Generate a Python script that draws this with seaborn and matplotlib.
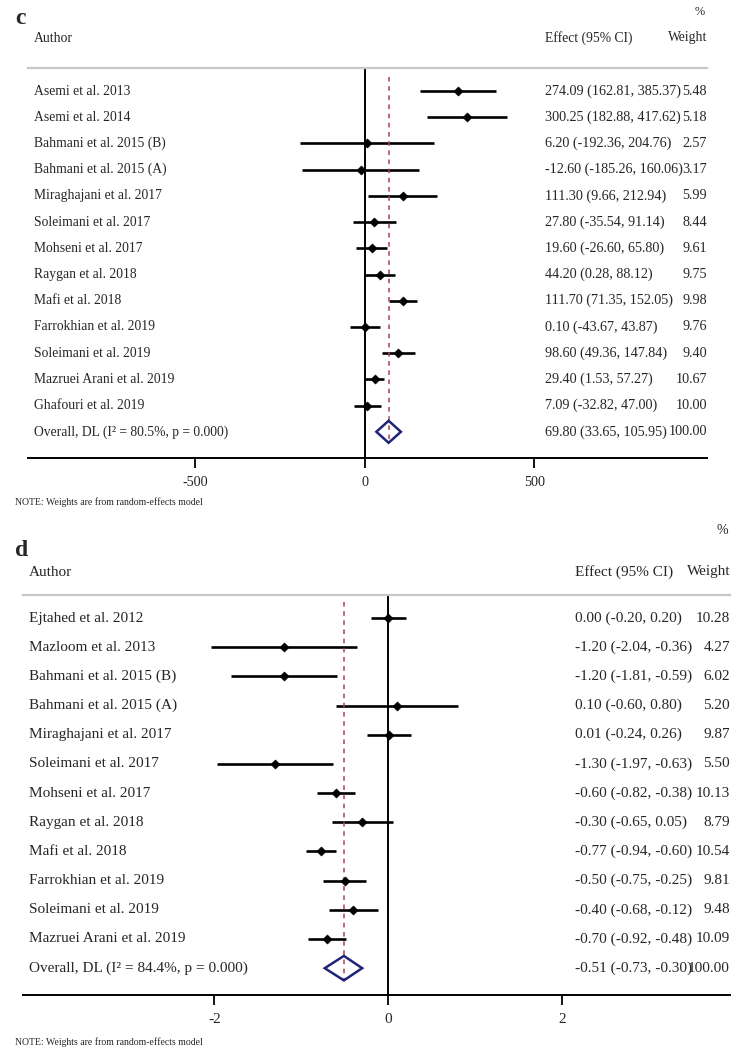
import numpy as np
import pandas as pd
import matplotlib
matplotlib.use("Agg")
import matplotlib.pyplot as plt
import seaborn as sns

sns.set_theme(style="white")
plt.rcParams["font.family"] = ["Liberation Serif", "DejaVu Serif"]

# panel c
c_authors = ["Asemi et al. 2013", "Asemi et al. 2014", "Bahmani et al. 2015 (B)",
             "Bahmani et al. 2015 (A)", "Miraghajani et al. 2017", "Soleimani et al. 2017",
             "Mohseni et al. 2017", "Raygan et al. 2018", "Mafi et al. 2018",
             "Farrokhian et al. 2019", "Soleimani et al. 2019", "Mazruei Arani et al. 2019",
             "Ghafouri et al. 2019"]
c_effect = [274.09, 300.25, 6.20, -12.60, 111.30, 27.80, 19.60, 44.20, 111.70, 0.10, 98.60, 29.40, 7.09]
c_lo = [162.81, 182.88, -192.36, -185.26, 9.66, -35.54, -26.60, 0.28, 71.35, -43.67, 49.36, 1.53, -32.82]
c_hi = [385.37, 417.62, 204.76, 160.06, 212.94, 91.14, 65.80, 88.12, 152.05, 43.87, 147.84, 57.27, 47.00]
c_weight = [5.48, 5.18, 2.57, 3.17, 5.99, 8.44, 9.61, 9.75, 9.98, 9.76, 9.40, 10.67, 10.00]
c_overall = [69.80, 33.65, 105.95]
c_i2 = 80.5
c_ticks = [-500, 0, 500]

# panel d
d_authors = ["Ejtahed et al. 2012", "Mazloom et al. 2013", "Bahmani et al. 2015 (B)",
             "Bahmani et al. 2015 (A)", "Miraghajani et al. 2017", "Soleimani et al. 2017",
             "Mohseni et al. 2017", "Raygan et al. 2018", "Mafi et al. 2018",
             "Farrokhian et al. 2019", "Soleimani et al. 2019", "Mazruei Arani et al. 2019"]
d_effect = [0.00, -1.20, -1.20, 0.10, 0.01, -1.30, -0.60, -0.30, -0.77, -0.50, -0.40, -0.70]
d_lo = [-0.20, -2.04, -1.81, -0.60, -0.24, -1.97, -0.82, -0.65, -0.94, -0.75, -0.68, -0.92]
d_hi = [0.20, -0.36, -0.59, 0.80, 0.26, -0.63, -0.38, 0.05, -0.60, -0.25, -0.12, -0.48]
d_weight = [10.28, 4.27, 6.02, 5.20, 9.87, 5.50, 10.13, 8.79, 10.54, 9.81, 9.48, 10.09]
d_overall = [-0.51, -0.73, -0.30]
d_i2 = 84.4
d_ticks = [-2, 0, 2]

W, H = 737, 1056
fig = plt.figure(figsize=(W / 100, H / 100), dpi=100)


def fx(x):
    return x / W


def fy(y):
    return 1 - y / H


def forest(label, authors, effect, lo, hi, weight, overall, i2, ticks,
           box, xlim, ylim, fs, fs_num, lab_y, hdr_y, pct_y, eff_x, wt_x, note_y):
    left, top, right, bottom = box
    ax = fig.add_axes([fx(left), fy(bottom), fx(right - left), (bottom - top) / H])
    n = len(authors)
    df = pd.DataFrame({"author": authors, "effect": effect, "lo": lo, "hi": hi,
                       "weight": weight, "row": np.arange(n)})

    ax.axvline(0, color="black", lw=1.4, zorder=1)
    ax.hlines(df["row"], df["lo"], df["hi"], color="black", lw=1.9, zorder=2)
    sns.scatterplot(data=df, x="effect", y="row", marker="D", s=22, color="black",
                    edgecolor="black", ax=ax, zorder=3, legend=False)

    est, olo, ohi = overall
    ax.plot([est, est], [-0.55, n + 0.4], ls=(0, (3, 3)), color="#a8424e", lw=1.1, zorder=2)
    ax.fill([olo, est, ohi, est, olo], [n, n - 0.42, n, n + 0.42, n], facecolor="none",
            edgecolor="#1f237a", lw=1.8, zorder=4)

    ax.set_xlim(*xlim)
    ax.set_ylim(*ylim)
    ax.set_xticks(ticks)
    ax.set_xticklabels([str(t) for t in ticks], fontsize=fs_num)
    ax.set_yticks([])
    ax.set_xlabel("")
    ax.set_ylabel("")
    for s in ["left", "right"]:
        ax.spines[s].set_visible(False)
    ax.spines["top"].set_color("#c8c8c8")
    ax.spines["top"].set_linewidth(1.6)
    ax.spines["bottom"].set_color("black")
    ax.spines["bottom"].set_linewidth(1.4)
    ax.tick_params(axis="x", direction="out", length=7, width=1.3, color="black",
                   pad=6, bottom=True)
    ax.patch.set_alpha(0)

    tr = ax.get_yaxis_transform()
    ax_x = lambda px: (px - left) / (right - left)
    for i, row in df.iterrows():
        ax.text(ax_x(left + 6), row["row"], row["author"], transform=tr,
                fontsize=fs, va="center", ha="left")
        ax.text(ax_x(eff_x), row["row"],
                f"{row['effect']:.2f} ({row['lo']:.2f}, {row['hi']:.2f})",
                transform=tr, fontsize=fs_num, va="center", ha="left")
        ax.text(ax_x(wt_x), row["row"], f"{row['weight']:.2f}", transform=tr,
                fontsize=fs_num, va="center", ha="right")
    ax.text(ax_x(left + 6), n, f"Overall, DL (I\u00b2 = {i2:.1f}%, p = 0.000)",
            transform=tr, fontsize=fs, va="center", ha="left")
    ax.text(ax_x(eff_x), n, f"{est:.2f} ({olo:.2f}, {ohi:.2f})", transform=tr,
            fontsize=fs_num, va="center", ha="left")
    ax.text(ax_x(wt_x), n, "100.00", transform=tr, fontsize=fs_num, va="center", ha="right")

    fig.text(fx(15), fy(lab_y), label, fontsize=17, fontweight="bold", va="center", ha="left")
    fig.text(fx(left + 6), fy(hdr_y), "Author", fontsize=fs, va="center", ha="left")
    fig.text(fx(eff_x), fy(hdr_y), "Effect (95% CI)", fontsize=fs, va="center", ha="left")
    fig.text(fx(wt_x), fy(hdr_y), "Weight", fontsize=fs, va="center", ha="right")
    fig.text(fx(wt_x - 2), fy(pct_y), "%", fontsize=fs - 1, va="center", ha="right")
    fig.text(fx(15), fy(note_y), "NOTE: Weights are from random-effects model",
             fontsize=7, va="center", ha="left")
    return ax


forest("c", c_authors, c_effect, c_lo, c_hi, c_weight, c_overall, c_i2, c_ticks,
       box=(28, 68, 707, 458), xlim=(-994, 1009), ylim=(14.0, -0.88), fs=9.8, fs_num=10.2,
       lab_y=19, hdr_y=38, pct_y=12, eff_x=545, wt_x=707, note_y=502)

forest("d", d_authors, d_effect, d_lo, d_hi, d_weight, d_overall, d_i2, d_ticks,
       box=(23, 595, 730, 995), xlim=(-4.20, 3.93), ylim=(12.92, -0.79), fs=11, fs_num=11,
       lab_y=550, hdr_y=572, pct_y=530, eff_x=575, wt_x=730, note_y=1042)

fig.savefig("out.png", dpi=100, facecolor="white")
